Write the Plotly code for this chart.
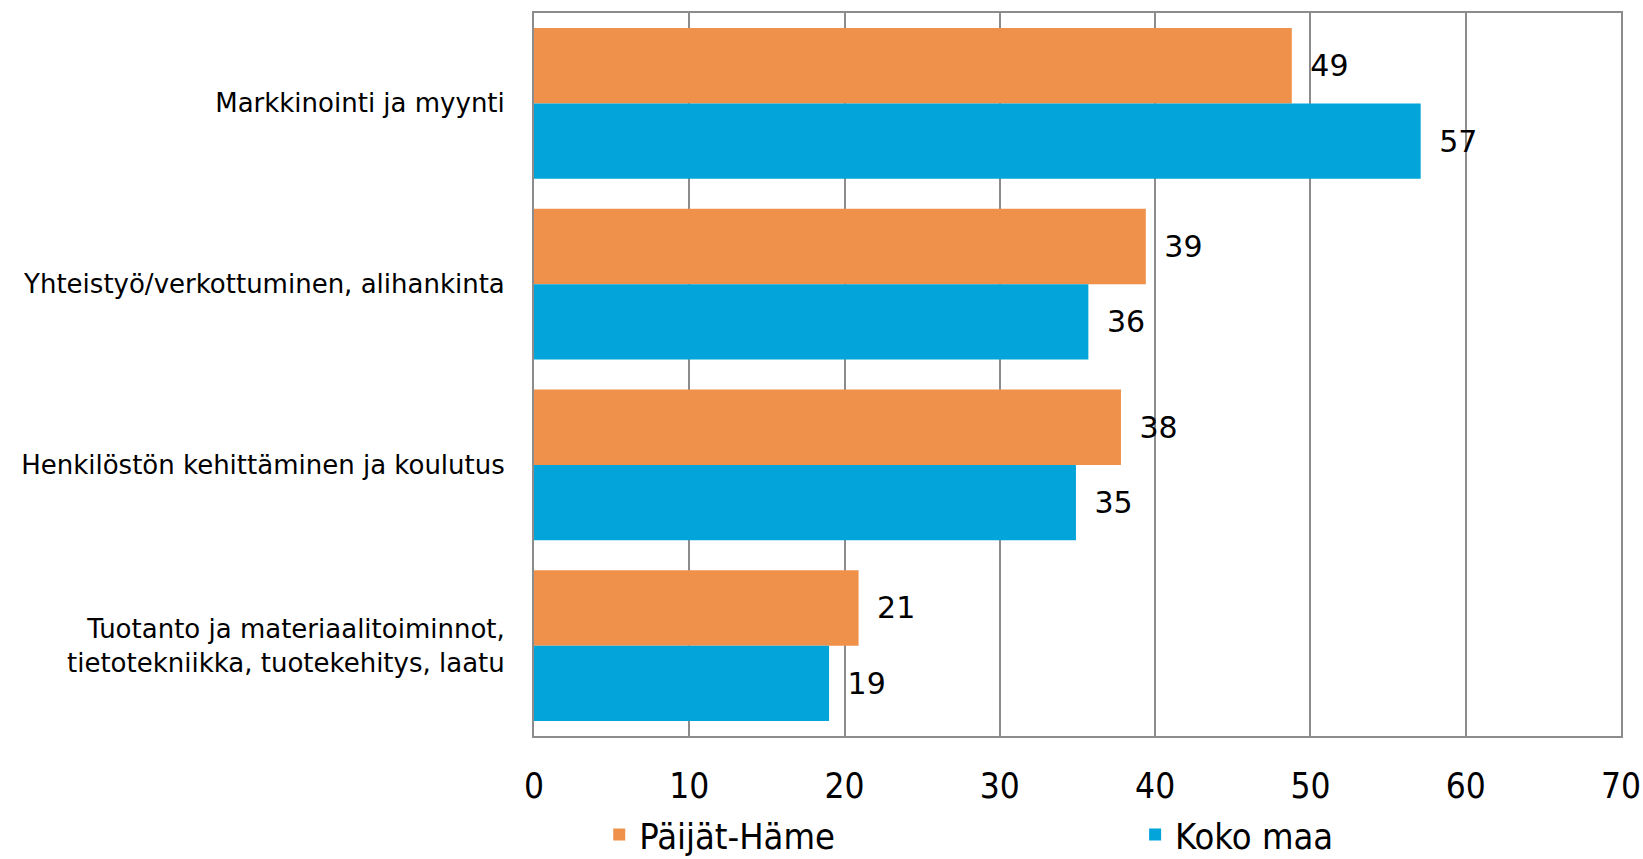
import plotly.graph_objects as go

categories = [
    "Markkinointi ja myynti",
    "Yhteistyö/verkottuminen, alihankinta",
    "Henkilöstön kehittäminen ja koulutus",
    "Tuotanto ja materiaalitoiminnot,<br>tietotekniikka, tuotekehitys, laatu",
]
series_names = ["Päijät-Häme", "Koko maa"]
paijat_hame = [48.8, 39.4, 37.8, 20.9]
koko_maa = [57.1, 35.7, 34.9, 19.0]
tick_values = [0, 10, 20, 30, 40, 50, 60, 70]

colors = ["#F0914B", "#03A4DA"]
legend_ids = ["legend", "legend2"]

fig = go.Figure()
for name, vals, col, lg in zip(series_names, [paijat_hame, koko_maa], colors, legend_ids):
    fig.add_trace(go.Bar(
        y=categories, x=vals, name=name, orientation="h",
        marker=dict(color=col, line=dict(width=0)),
        texttemplate=" \u2009%{x:.0f}", textposition="outside",
        textfont=dict(family="DejaVu Sans", size=30, color="#000000"),
        cliponaxis=False, legend=lg,
    ))

legend_font = dict(family="Liberation Sans Narrow, DejaVu Sans Condensed", size=36, color="#000000")
fig.update_layout(
    width=1643, height=859,
    margin=dict(l=534, r=22, t=13, b=123, autoexpand=False),
    paper_bgcolor="white", plot_bgcolor="white",
    barmode="group", bargap=0.165, bargroupgap=0,
    font=dict(family="DejaVu Sans", color="#000000"),
    legend=dict(x=0.06, xanchor="left", y=-0.095, yanchor="top",
                font=legend_font, itemwidth=30, orientation="h"),
    legend2=dict(x=0.553, xanchor="left", y=-0.095, yanchor="top",
                 font=legend_font, itemwidth=30, orientation="h"),
    showlegend=True,
)
fig.update_xaxes(
    range=[0, 70], tickvals=tick_values,
    showgrid=True, gridcolor="#8C8C8C", gridwidth=1.5,
    showline=True, linecolor="#8C8C8C", linewidth=2, mirror=True,
    zeroline=False, automargin=False,
    tickfont=dict(family="Liberation Sans Narrow, DejaVu Sans Condensed", size=35),
    ticks="", ticklabelstandoff=18,
)
fig.update_yaxes(
    autorange="reversed", automargin=False,
    showline=True, linecolor="#8C8C8C", linewidth=2, mirror=True,
    tickfont=dict(family="DejaVu Sans", size=26),
    ticks="", ticklabelstandoff=22,
)

fig.write_html(
    "out.html",
    config={"displayModeBar": False},
    post_script="document.body.style.margin='0';document.body.style.overflow='hidden';",
)
